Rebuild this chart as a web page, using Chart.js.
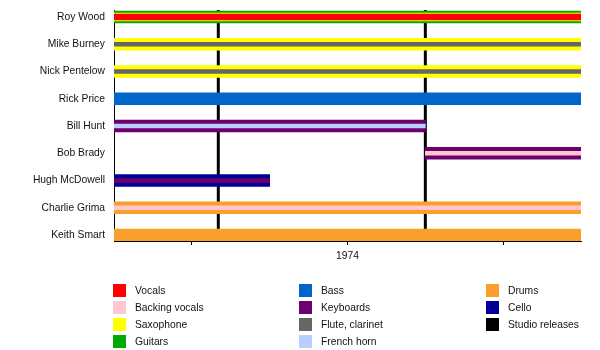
<!DOCTYPE html>
<html>
<head>
<meta charset="utf-8">
<script src="https://cdn.jsdelivr.net/npm/chart.js@4"></script>
<style>
    body { margin: 0; background: #fff; }
    #wrap { position: relative; width: 600px; height: 350px; }
    #legend {
        position: absolute;
        left: 113px;
        top: 282px;
        display: grid;
        grid-template-columns: 186px 187px auto;
        grid-template-rows: repeat(4, 17px);
        grid-auto-flow: column;
        font: 10.3px "Liberation Sans", Arial, sans-serif;
        color: #111;
    }
    #legend .item { display: flex; align-items: center; height: 17px; }
    #legend .box { width: 13px; height: 13px; margin-right: 9px; }
</style>
</head>
<body>
<div id="wrap">
    <canvas id="chart" width="600" height="350"></canvas>
    <div id="legend"></div>
</div>
<script>
const members = ["Roy Wood", "Mike Burney", "Nick Pentelow", "Rick Price", "Bill Hunt",
    "Bob Brady", "Hugh McDowell", "Charlie Grima", "Keith Smart"];
const tenureStart = [1972.5, 1972.5, 1972.5, 1972.5, 1972.5, 1974.5, 1972.5, 1972.5, 1972.5];
const tenureEnd = [1975.5, 1975.5, 1975.5, 1975.5, 1974.5, 1975.5, 1973.5, 1975.5, 1975.5];

// one role per bar layer, widest first
const mainRole = ["Guitars", "Saxophone", "Saxophone", "Bass", "Keyboards",
    "Keyboards", "Cello", "Drums", "Drums"];
const middleRole = ["Saxophone", null, null, null, null, null, null, null, null];
const leadRole = ["Vocals", null, null, null, null, null, null, null, null];
const innerRole = [null, "Flute, clarinet", "Flute, clarinet", null, "French horn",
    "Backing vocals", "Keyboards", "Backing vocals", null];

const releases = [1973.17, 1974.5];
const yearTicks = [1973, 1974, 1975];
const yearLabels = ["", "1974", ""];

const instruments = ["Vocals", "Backing vocals", "Saxophone", "Guitars", "Bass", "Keyboards",
    "Flute, clarinet", "French horn", "Drums", "Cello", "Studio releases"];
const instrumentColors = ["#ff0000", "#ffc8d0", "#ffff00", "#00aa00", "#0066cc", "#6e006e",
    "#666666", "#bbccff", "#fa9e2c", "#000099", "#000000"];

const colorOf = (name) => instrumentColors[instruments.indexOf(name)];

function layer(roles, thickness, order) {
    const data = [];
    const colors = [];
    roles.forEach((role, i) => {
        if (!role) {
            return;
        }
        data.push({ y: i, x: [tenureStart[i], tenureEnd[i]] });
        colors.push(colorOf(role));
    });
    return {
        data,
        backgroundColor: colors,
        barThickness: thickness,
        grouped: false,
        borderWidth: 0,
        order,
    };
}

const releaseLines = {
    id: "releaseLines",
    beforeDatasetsDraw(chart) {
        const { ctx, chartArea, scales } = chart;
        ctx.save();
        ctx.strokeStyle = "#000";
        ctx.lineWidth = 3;
        releases.forEach((r) => {
            const x = scales.x.getPixelForValue(r);
            ctx.beginPath();
            ctx.moveTo(x, chartArea.top);
            ctx.lineTo(x, chartArea.bottom);
            ctx.stroke();
        });
        ctx.restore();
    },
};

const font = { family: "'Liberation Sans', Arial, sans-serif", size: 10.3 };

new Chart(document.getElementById("chart"), {
    type: "bar",
    data: {
        datasets: [
            layer(innerRole, 4, 1),
            layer(leadRole, 6, 2),
            layer(middleRole, 8, 3),
            layer(mainRole, 12, 4),
        ],
    },
    options: {
        indexAxis: "y",
        responsive: false,
        animation: false,
        layout: { padding: { top: 10, right: 19, left: 0, bottom: 0 } },
        plugins: {
            legend: { display: false },
            tooltip: { enabled: false },
        },
        scales: {
            y: {
                type: "linear",
                reverse: true,
                offset: false,
                min: -0.257,
                max: 8.22,
                afterBuildTicks: (scale) => {
                    scale.ticks = members.map((m, i) => ({ value: i }));
                },
                afterFit: (scale) => {
                    scale.width = 114;
                    scale.paddingTop = 0;
                    scale.paddingBottom = 0;
                },
                ticks: {
                    callback: (value) => members[value],
                    autoSkip: false,
                    padding: 9,
                    color: "#111",
                    font,
                },
                grid: { display: false, drawTicks: false, tickLength: 0 },
                border: { display: true, color: "#000", width: 1 },
            },
            x: {
                type: "linear",
                min: 1972.5,
                max: 1975.5,
                afterBuildTicks: (scale) => {
                    scale.ticks = yearTicks.map((v) => ({ value: v }));
                },
                afterFit: (scale) => {
                    scale.height = 109;
                },
                ticks: {
                    callback: (value, index) => yearLabels[index],
                    autoSkip: false,
                    maxRotation: 0,
                    padding: 5,
                    color: "#111",
                    font,
                },
                grid: { drawOnChartArea: false, tickLength: 4, color: "#000" },
                border: { color: "#000", width: 1 },
            },
        },
    },
    plugins: [releaseLines],
});

const legend = document.getElementById("legend");
instruments.forEach((name, i) => {
    const item = document.createElement("div");
    item.className = "item";
    const box = document.createElement("span");
    box.className = "box";
    box.style.background = instrumentColors[i];
    item.appendChild(box);
    item.appendChild(document.createTextNode(name));
    legend.appendChild(item);
});
</script>
</body>
</html>
